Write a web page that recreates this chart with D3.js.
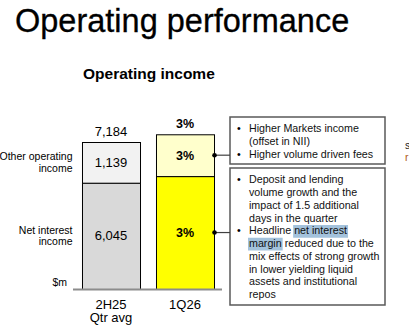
<!DOCTYPE html>
<html>
<head>
<meta charset="utf-8">
<script src="https://cdn.jsdelivr.net/npm/d3@7"></script>
<style>
  html, body { margin: 0; padding: 0; background: #fff; }
  svg { display: block; font-family: "Liberation Sans", Arial, sans-serif; }
</style>
</head>
<body>
<div id="chart"></div>
<script>
// chart values
const categories = ["2H25", "1Q26"];
const categorySub = ["Qtr avg", ""];
const seriesNames = [["Net interest", "income"], ["Other operating", "income"]];
const niiValues = [6045, 6230];
const otherValues = [1139, 1170];
const totalValues = [7184, 7400];
const niiLabels = ["6,045", "3%"];
const otherLabels = ["1,139", "3%"];
const totalLabels = ["7,184", "3%"];
const otherNotes = [
  ["Higher Markets income", "(offset in NII)"],
  ["Higher volume driven fees"]
];
const niiNotes = [
  ["Deposit and lending", "volume growth and the", "impact of 1.5 additional", "days in the quarter"],
  ["Headline net interest", "margin reduced due to the", "mix effects of strong growth", "in lower yielding liquid", "assets and institutional", "repos"]
];
// highlighted words: [bullet, line, text]
const highlights = [[1, 0, "net interest"], [1, 1, "margin"]];

const width = 409, height = 334;
const fills = {
  nii: ["#d9d9d9", "#ffff00"],
  other: ["#f2f2f2", "#ffffcc"]
};

const svg = d3.select("#chart").append("svg")
  .attr("width", width).attr("height", height);

// titles
svg.append("text").attr("x", 15).attr("y", 32)
  .attr("font-size", 32.5).attr("fill", "#000")
  .attr("stroke", "#000").attr("stroke-width", 0.3)
  .text("Operating performance");
svg.append("text").attr("x", 83).attr("y", 79)
  .attr("font-size", 15.5).attr("font-weight", "bold")
  .text("Operating income");

// scales: value axis is truncated, bars do not start at zero
const x = d3.scaleBand().domain(categories).range([74, 222])
  .paddingInner(0.216).paddingOuter(0.108);
const y = d3.scaleLinear().domain([3070, 7184]).range([289, 142]);

const bars = categories.map((c, i) => ({
  cat: c, i: i,
  nii: niiValues[i], other: otherValues[i], total: totalValues[i]
}));

const g = svg.append("g");

// NII segments
g.selectAll(".nii").data(bars).enter().append("rect")
  .attr("class", "nii")
  .attr("x", d => x(d.cat) + 0.5)
  .attr("y", d => y(d.nii) + 0.5)
  .attr("width", x.bandwidth())
  .attr("height", d => y.range()[0] - y(d.nii))
  .attr("fill", d => fills.nii[d.i])
  .attr("stroke", "#000").attr("stroke-width", 1);

// other operating income segments
g.selectAll(".oth").data(bars).enter().append("rect")
  .attr("class", "oth")
  .attr("x", d => x(d.cat) + 0.5)
  .attr("y", d => y(d.total) + 0.5)
  .attr("width", x.bandwidth())
  .attr("height", d => y(d.nii) - y(d.total))
  .attr("fill", d => fills.other[d.i])
  .attr("stroke", "#000").attr("stroke-width", 1);

// baseline
svg.append("line")
  .attr("x1", 73).attr("x2", 222)
  .attr("y1", y.range()[0] + 0.5).attr("y2", y.range()[0] + 0.5)
  .attr("stroke", "#8c8c8c").attr("stroke-width", 2);

// segment labels
g.selectAll(".niiLab").data(bars).enter().append("text")
  .attr("x", d => x(d.cat) + x.bandwidth() / 2)
  .attr("y", d => (y(d.nii) + y.range()[0]) / 2 + 4.5)
  .attr("text-anchor", "middle")
  .attr("font-size", d => d.i === 0 ? 13 : 12.5)
  .attr("font-weight", d => d.i === 0 ? "normal" : "bold")
  .text(d => niiLabels[d.i]);
g.selectAll(".othLab").data(bars).enter().append("text")
  .attr("x", d => x(d.cat) + x.bandwidth() / 2)
  .attr("y", d => (y(d.nii) + y(d.total)) / 2 + 4.5)
  .attr("text-anchor", "middle")
  .attr("font-size", d => d.i === 0 ? 13 : 12.5)
  .attr("font-weight", d => d.i === 0 ? "normal" : "bold")
  .text(d => otherLabels[d.i]);
g.selectAll(".totLab").data(bars).enter().append("text")
  .attr("x", d => x(d.cat) + x.bandwidth() / 2)
  .attr("y", d => y(d.total) - 6)
  .attr("text-anchor", "middle")
  .attr("font-size", d => d.i === 0 ? 13 : 12.5)
  .attr("font-weight", d => d.i === 0 ? "normal" : "bold")
  .text(d => totalLabels[d.i]);

// category labels under the axis
const xl = g.selectAll(".xlab").data(bars).enter().append("text")
  .attr("text-anchor", "middle").attr("font-size", 13);
xl.append("tspan").attr("x", d => x(d.cat) + x.bandwidth() / 2).attr("y", 308.5)
  .text(d => d.cat);
xl.append("tspan").attr("x", d => x(d.cat) + x.bandwidth() / 2).attr("y", 322)
  .text(d => categorySub[d.i]);

// series labels on the left, next to the first bar
const leftX = 72.5;
const segCenters = [
  (y(niiValues[0]) + y.range()[0]) / 2,
  (y(niiValues[0]) + y(totalValues[0])) / 2
];
seriesNames.forEach((lines, k) => {
  const t = svg.append("text").attr("text-anchor", "end").attr("font-size", 10.5);
  lines.forEach((ln, j) => {
    t.append("tspan").attr("x", leftX)
      .attr("y", segCenters[k] - 2 + j * 11.5).text(ln);
  });
});
svg.append("text").attr("x", 67).attr("y", 285.5)
  .attr("text-anchor", "end").attr("font-size", 10.5).text("$m");

// callout boxes
const boxX = 230, boxW = 155;
const lineH = 12.75;
function callout(notes, top, bottom, firstBase, segY) {
  svg.append("rect").attr("x", boxX).attr("y", top)
    .attr("width", boxW).attr("height", bottom - top)
    .attr("fill", "#fff").attr("stroke", "#595959").attr("stroke-width", 1.5);
  const barRight = x(categories[1]) + x.bandwidth() + 0.5;
  svg.append("line").attr("x1", barRight).attr("x2", boxX)
    .attr("y1", segY).attr("y2", segY)
    .attr("stroke", "#404040").attr("stroke-width", 1.2);
  svg.append("circle").attr("cx", barRight).attr("cy", segY).attr("r", 2.3)
    .attr("fill", "#000");
  let row = 0;
  const rows = [];
  notes.forEach((bullet, b) => {
    bullet.forEach((ln, j) => {
      const by = firstBase + row * lineH;
      if (j === 0) {
        svg.append("text").attr("x", 237).attr("y", by)
          .attr("font-size", 10.7).text("•");
      }
      rows.push({ b: b, j: j, y: by, text: ln });
      row++;
    });
  });
  return rows;
}

const otherY = (y(otherValues[1] + niiValues[1]) + y(niiValues[1])) / 2;
const niiY = (y(niiValues[1]) + y.range()[0]) / 2;
const otherRows = callout(otherNotes, 117, 164, 132, otherY);
const niiRows = callout(niiNotes, 168, 305, 183.3, niiY);

// highlight rectangles behind the marked words, then the note text
const hlLayer = svg.append("g");
const textLayer = svg.append("g");
function drawRows(rows, withHl) {
  rows.forEach(r => {
    const t = textLayer.append("text").attr("x", 249).attr("y", r.y)
      .attr("font-size", 10.7).attr("fill", "#111").text(r.text);
    if (!withHl) return;
    highlights.filter(h => h[0] === r.b && h[1] === r.j).forEach(h => {
      const idx = r.text.indexOf(h[2]);
      const node = t.node();
      const x0 = idx === 0 ? 249 : node.getStartPositionOfChar(idx).x;
      const w = node.getSubStringLength(idx, h[2].length);
      hlLayer.append("rect")
        .attr("x", x0 - 1).attr("y", r.y - 9.3)
        .attr("width", w + 2).attr("height", lineH)
        .attr("fill", "#a3c2dc");
    });
  });
}
drawRows(otherRows, false);
drawRows(niiRows, true);

// clipped text from the next panel at the right edge
svg.append("text").attr("x", 405).attr("y", 149).attr("font-size", 10.5)
  .attr("fill", "#222").text("s");
svg.append("text").attr("x", 405).attr("y", 161).attr("font-size", 10.5)
  .attr("fill", "#b05a14").text("r");
</script>
</body>
</html>
